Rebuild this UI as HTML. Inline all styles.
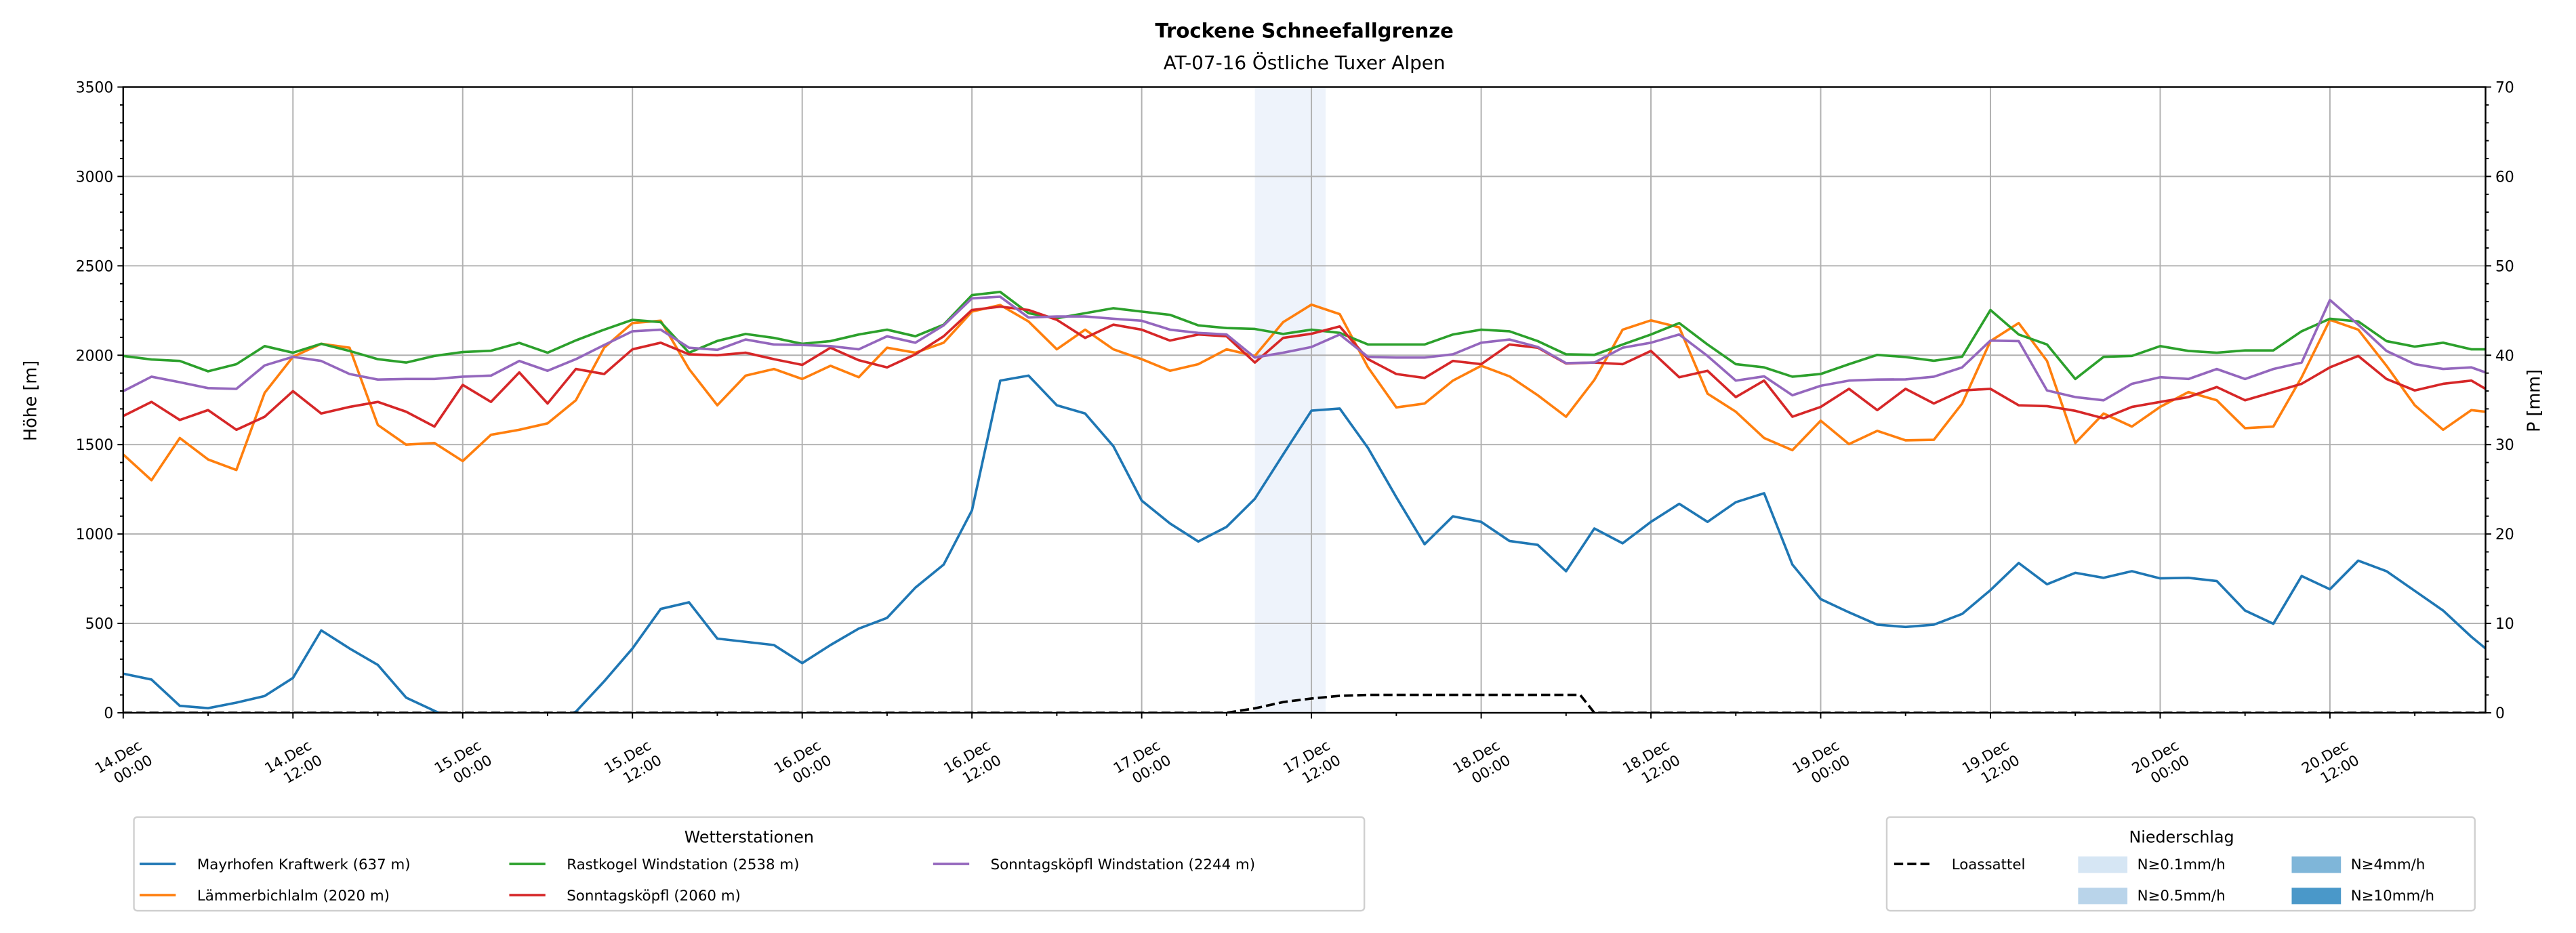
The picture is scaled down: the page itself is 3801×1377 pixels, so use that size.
<!DOCTYPE html>
<html><head><meta charset="utf-8"><style>
html,body{margin:0;padding:0;background:#fff}
svg{display:block}
text{font-family:"DejaVu Sans","Liberation Sans",sans-serif;fill:#000}
</style></head><body>
<svg id="chart" width="3801" height="1377" viewBox="0 0 1568.07 568.07" preserveAspectRatio="none" xmlns="http://www.w3.org/2000/svg">
<rect width="1568.07" height="568.07" fill="#fff"/>
<text x="794" y="23" font-size="12" font-weight="bold" text-anchor="middle">Trockene Schneefallgrenze</text>
<text x="794" y="42" font-size="11.5" text-anchor="middle">AT-07-16 Östliche Tuxer Alpen</text>
<g id="plot"></g>
</svg>
<script>
const hours=[];for(let h=0;h<=166;h+=2)hours.push(h);hours.push(167);
const mayrhofen=[219,186,39,26,57,94,195,461,360,268,85,11,-60,-60,-60,-60,6,176,360,581,618,415,397,379,278,379,471,531,700,829,1132,1858,1886,1720,1674,1491,1187,1059,958,1040,1197,1445,1690,1702,1481,1206,943,1099,1068,961,939,792,1031,948,1068,1169,1068,1178,1228,829,636,562,493,480,493,553,686,838,719,783,755,792,752,755,737,572,498,765,691,851,792,682,572,425,360];
const laemmerbichl=[1445,1301,1537,1417,1358,1790,1991,2064,2042,1610,1500,1509,1408,1555,1583,1619,1748,2042,2180,2193,1923,1720,1886,1923,1867,1941,1877,2042,2014,2070,2244,2281,2189,2033,2143,2033,1978,1913,1950,2033,1996,2185,2283,2230,1932,1708,1730,1858,1941,1882,1776,1656,1862,2143,2195,2156,1785,1684,1537,1469,1634,1503,1577,1524,1527,1730,2079,2180,1968,1509,1674,1601,1711,1794,1748,1592,1601,1877,2198,2143,1941,1720,1583,1693,1684];
const rastkogel=[1996,1976,1968,1910,1950,2051,2014,2064,2024,1978,1959,1996,2018,2025,2069,2014,2083,2143,2198,2185,2014,2080,2119,2097,2064,2079,2116,2143,2106,2171,2336,2354,2235,2207,2235,2263,2244,2226,2167,2152,2147,2119,2143,2125,2060,2060,2060,2116,2143,2134,2079,2005,2002,2060,2116,2180,2060,1950,1932,1880,1895,1950,2002,1990,1969,1992,2253,2116,2060,1867,1991,1996,2051,2024,2014,2027,2027,2134,2204,2189,2079,2048,2070,2033,2033];
const sonntag=[1660,1739,1638,1693,1583,1656,1799,1674,1711,1739,1684,1601,1834,1739,1904,1730,1923,1895,2033,2070,2005,2000,2014,1978,1946,2042,1972,1932,2005,2106,2253,2272,2253,2198,2097,2171,2143,2082,2116,2106,1959,2097,2120,2161,1978,1895,1873,1968,1950,2060,2042,1954,1959,1950,2024,1877,1913,1766,1858,1656,1711,1812,1693,1812,1730,1803,1812,1720,1715,1689,1647,1711,1739,1766,1822,1748,1794,1840,1932,1996,1867,1803,1840,1858,1812];
const sonntagWind=[1799,1880,1849,1816,1812,1943,1991,1968,1895,1864,1867,1867,1880,1886,1968,1913,1978,2057,2134,2143,2042,2030,2088,2060,2057,2051,2033,2106,2070,2167,2318,2327,2211,2217,2217,2204,2193,2143,2125,2116,1987,2014,2046,2116,1991,1987,1987,2005,2070,2088,2046,1956,1959,2042,2070,2116,1996,1858,1882,1776,1829,1858,1864,1865,1880,1932,2082,2079,1803,1766,1748,1840,1877,1867,1923,1867,1923,1959,2309,2171,2024,1950,1923,1932,1904];
const loasHours=[0,78,80,82,84,86,88,103,104,167];
const loasValues=[0,0,0.5,1.2,1.6,1.9,2.0,2.0,0,0];
const precipBand=[80,85];
const yTicks=[0,500,1000,1500,2000,2500,3000,3500];
const pTicks=[0,10,20,30,40,50,60,70];
const xTickHours=[0,12,24,36,48,60,72,84,96,108,120,132,144,156];
const xTickLabels=[["14.Dec","00:00"],["14.Dec","12:00"],["15.Dec","00:00"],["15.Dec","12:00"],["16.Dec","00:00"],["16.Dec","12:00"],["17.Dec","00:00"],["17.Dec","12:00"],["18.Dec","00:00"],["18.Dec","12:00"],["19.Dec","00:00"],["19.Dec","12:00"],["20.Dec","00:00"],["20.Dec","12:00"]];

const L=75,R=1513,T=53,B=434,HMAX=167;
const xs=h=>L+(R-L)*h/HMAX;
const ys=v=>B-(B-T)*v/3500;
const yp=v=>B-(B-T)*v/70;
const NS="http://www.w3.org/2000/svg";
const plot=document.getElementById('plot');
function mk(tag,attrs,parent){const e=document.createElementNS(NS,tag);for(const k in attrs)e.setAttribute(k,attrs[k]);(parent||plot).appendChild(e);return e;}

const defs=mk('defs',{});
const cp=mk('clipPath',{id:'clip'},defs);
mk('rect',{x:L,y:T,width:R-L,height:B-T},cp);

const band=mk('rect',{x:xs(precipBand[0]),y:T,width:xs(precipBand[1])-xs(precipBand[0]),height:B-T,fill:'#eef3fb'});



yTicks.forEach(v=>{const g=mk('line',{x1:L,x2:R,y1:ys(v),y2:ys(v),stroke:'#b0b0b0','stroke-width':0.8});

});
xTickHours.forEach(h=>{const g=mk('line',{x1:xs(h),x2:xs(h),y1:T,y2:B,stroke:'#b0b0b0','stroke-width':0.8});

});

const series=[[mayrhofen,'#1f77b4','series-mayrhofen'],[laemmerbichl,'#ff7f0e','series-laemmerbichlalm'],[rastkogel,'#2ca02c','series-rastkogel'],[sonntag,'#d62728','series-sonntagskoepfl'],[sonntagWind,'#9467bd','series-sonntagskoepfl-wind']];
const sg=mk('g',{'clip-path':'url(#clip)'});
series.forEach(([vals,col,name])=>{
 const d=vals.map((v,i)=>(i?'L':'M')+xs(hours[i]).toFixed(2)+','+ys(v).toFixed(2)).join('');
 const p=mk('path',{d:d,fill:'none',stroke:col,'stroke-width':1.5,'stroke-linejoin':'round'},sg);
 
 
});
const ld=loasValues.map((v,i)=>(i?'L':'M')+xs(loasHours[i]).toFixed(2)+','+yp(v).toFixed(2)).join('');
const lp=mk('path',{d:ld,fill:'none',stroke:'#000','stroke-width':1.5,'stroke-dasharray':'5.5,2.5'},sg);



const fr=mk('rect',{x:L,y:T,width:R-L,height:B-T,fill:'none',stroke:'#000','stroke-width':1});



for(let v=0;v<=3500;v+=100){const major=v%500===0;mk('line',{x1:L,x2:L-(major?3.5:2),y1:ys(v),y2:ys(v),stroke:'#000','stroke-width':0.8});}
yTicks.forEach(v=>{const t=mk('text',{x:L-6,y:ys(v)+3.3,'font-size':9,'text-anchor':'end'});t.textContent=v;

});
for(let v=0;v<=70;v+=2){const major=v%10===0;mk('line',{x1:R,x2:R+(major?3.5:2),y1:yp(v),y2:yp(v),stroke:'#000','stroke-width':0.8});}
pTicks.forEach(v=>{const t=mk('text',{x:R+6,y:yp(v)+3.3,'font-size':9,'text-anchor':'start'});t.textContent=v;

});
for(let h=0;h<=HMAX;h+=6){const major=h%12===0;mk('line',{x1:xs(h),x2:xs(h),y1:B,y2:B+(major?3.5:2),stroke:'#000','stroke-width':0.8});}
xTickHours.forEach((h,i)=>{const g=mk('g',{transform:'translate('+xs(h)+',466) rotate(-30)'});
 
 
 const a=mk('text',{x:0,y:-3,'font-size':8.8,'text-anchor':'middle'},g);a.textContent=xTickLabels[i][0];
 const b=mk('text',{x:4,y:8,'font-size':8.8,'text-anchor':'middle'},g);b.textContent=xTickLabels[i][1];});

const yl=mk('text',{x:0,y:0,'font-size':10.5,'text-anchor':'middle',transform:'translate(22,244) rotate(-90)'});yl.textContent='Höhe [m]';


const pl=mk('text',{x:0,y:0,'font-size':10.5,'text-anchor':'middle',transform:'translate(1546,244) rotate(-90)'});pl.textContent='P [mm]';



const lg=mk('g',{});


mk('rect',{x:81.5,y:497.5,width:749,height:57,rx:2,fill:'#fff',stroke:'#d0d0d0','stroke-width':1},lg);
const lt=mk('text',{x:456,y:513,'font-size':9.8,'text-anchor':'middle'},lg);lt.textContent='Wetterstationen';
const entries=[['Mayrhofen Kraftwerk (637 m)','#1f77b4',85,526],['Lämmerbichlalm (2020 m)','#ff7f0e',85,545],['Rastkogel Windstation (2538 m)','#2ca02c',310,526],['Sonntagsköpfl (2060 m)','#d62728',310,545],['Sonntagsköpfl Windstation (2244 m)','#9467bd',568,526]];
entries.forEach(([txt,col,x,y])=>{const eg=mk('g',{},lg);
 
 
 mk('line',{x1:x,x2:x+22,y1:y,y2:y,stroke:col,'stroke-width':1.5},eg);
 const t=mk('text',{x:x+35,y:y+3.3,'font-size':8.8},eg);t.textContent=txt;});

const lg2=mk('g',{});


mk('rect',{x:1148.5,y:497.5,width:358,height:57,rx:2,fill:'#fff',stroke:'#d0d0d0','stroke-width':1},lg2);
const lt2=mk('text',{x:1328,y:513,'font-size':9.8,'text-anchor':'middle'},lg2);lt2.textContent='Niederschlag';
const le=mk('g',{},lg2);


mk('line',{x1:1153,x2:1176,y1:526,y2:526,stroke:'#000','stroke-width':1.5,'stroke-dasharray':'5.5,2.5'},le);
const ltx=mk('text',{x:1188,y:529.3,'font-size':8.8},le);ltx.textContent='Loassattel';
const patches=[['N≥0.1mm/h','#d6e6f4',1265,526],['N≥0.5mm/h','#b9d4ea',1265,545],['N≥4mm/h','#7fb6d9',1395,526],['N≥10mm/h','#4a98c9',1395,545]];
patches.forEach(([txt,col,x,y])=>{const eg=mk('g',{},lg2);
 
 
 mk('rect',{x:x,y:y-4.5,width:30,height:10,fill:col},eg);
 const t=mk('text',{x:x+36,y:y+3.3,'font-size':8.8},eg);t.textContent=txt;});
</script>
</body></html>
